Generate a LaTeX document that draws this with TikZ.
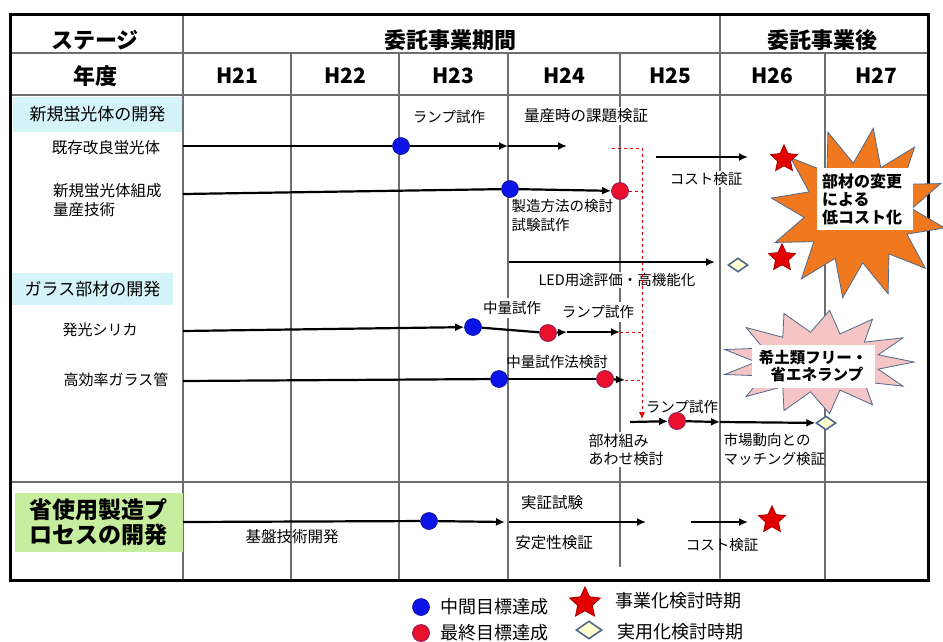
\documentclass[tikz,border=0pt]{standalone}
\usepackage{fontspec}
\setmainfont{Noto Sans CJK JP}
\usepackage{tikz}
\usetikzlibrary{shapes.geometric,arrows.meta,positioning,calc}
\definecolor{dotblue}{HTML}{0A14E6}
\definecolor{dotred}{HTML}{E8102A}
\definecolor{rimred}{HTML}{8A2060}
\definecolor{catcyan}{HTML}{D4F4FA}
\definecolor{catgreen}{HTML}{C6EE9E}
\definecolor{burstorange}{HTML}{F0781E}
\definecolor{burstpink}{HTML}{F5C4C4}
\definecolor{rimslate}{HTML}{4E6A8C}
\definecolor{chkfill}{HTML}{FFFFD0}
\definecolor{gridgray}{HTML}{6E6E6E}
\begin{document}
\begin{tikzpicture}[x=1pt, y=-1pt,
  gridline/.style={draw=gridgray, line width=1.2pt},
  hdr/.style={font=\bfseries\fontsize{22}{26}\selectfont},
  yr/.style={font=\bfseries\fontsize{21}{24}\selectfont},
  cat/.style={fill=#1, inner sep=0pt, font=\fontsize{17}{20}\selectfont},
  item/.style={font=\fontsize{15.5}{19}\selectfont, align=left, inner sep=1pt},
  note/.style={font=\fontsize{14.5}{19}\selectfont, align=left, inner sep=1.5pt},
  bar/.style={line width=2.2pt},
  arr/.style={bar, -{Latex[length=9pt,width=8pt]}},
  guide/.style={draw=red!85!black, dashed, line width=0.7pt},
  bdot/.style={circle, fill=dotblue, draw=dotblue!60!black, line width=0.6pt, minimum size=17pt, inner sep=0pt},
  rdot/.style={circle, fill=dotred, draw=rimred, line width=0.8pt, minimum size=17pt, inner sep=0pt},
  goal/.style={star, star points=5, star point ratio=2.1, fill=red!90!black, draw=red!70!black, line width=1pt, minimum size=#1, inner sep=0pt},
  goal/.default=28pt,
  chk/.style={diamond, fill=chkfill, draw=rimslate, line width=1.6pt, minimum width=20pt, minimum height=14pt, inner sep=0pt},
  burst/.style={fill=#1, draw=rimslate, line width=0.8pt, line join=miter},
  burstbox/.style={fill=white, inner sep=4pt, font=\bfseries\fontsize{16}{18}\selectfont},
  legend/.style={font=\fontsize{18}{20}\selectfont, anchor=west, inner sep=0pt},
]
  \useasboundingbox (0,0) rectangle (943,641);

  \draw[gridline] (10,53) -- (928,53);
  \draw[gridline] (10,95) -- (928,95);
  \draw[gridline, line width=2pt] (10,482) -- (928,482);
  \foreach \x in {183,720} \draw[gridline] (\x,14) -- (\x,580);
  \foreach \x in {291,399,508,825} \draw[gridline] (\x,53) -- (\x,580);
  \draw[gridline] (620,53) -- (620,567);
  \draw[line width=3pt] (10,14) rectangle (928,580);

  \node[hdr] (stage) at (95,40) {ステージ};
  \node[hdr] (term) at (450,40) {委託事業期間};
  \node[hdr] (after) at (822,40) {委託事業後};
  \node[hdr] (year) at (95,76) {年度};
  \foreach \n/\x in {21/237,22/345,23/453,24/564,25/670,26/772,27/876}
    \node[yr] (h\n) at (\x,76) {H\n};

  \node[cat=catcyan, minimum width=169pt, minimum height=35pt] (catA) at (97.5,114.5) {新規蛍光体の開発};
  \node[cat=catcyan, minimum width=161pt, minimum height=32pt] (catB) at (92.5,289) {ガラス部材の開発};
  \node[cat=catgreen, minimum width=168pt, minimum height=59pt, align=left,
        font=\bfseries\fontsize{23}{25}\selectfont] (catC) at (99,522.5) {省使用製造プ\\ロセスの開発};
  \node[item] (rowA1) at (106,148) {既存改良蛍光体};
  \node[item, anchor=west] (rowA2) at (52,200) {新規蛍光体組成\\量産技術};
  \node[item, font=\fontsize{15}{18}\selectfont] (rowB1) at (100,330) {発光シリカ};
  \node[item, font=\fontsize{15}{18}\selectfont] (rowB2) at (116,380) {高効率ガラス管};

  \node[note] (a1t) at (449,117) {ランプ試作};
  \node[note, fill=white, font=\fontsize{15.5}{19}\selectfont] (a1u) at (586,116) {量産時の課題検証};
  \node[note, fill=white] (a1v) at (706,179) {コスト検証};
  \node[note, anchor=north west] (a2t) at (510,198) {製造方法の検討\\試験試作};
  \node[note, fill=white] (a3t) at (617,280) {LED用途評価・高機能化};
  \node[note, fill=white, inner sep=3pt] (b1t) at (512,308) {中量試作};
  \node[note, fill=white, inner sep=3pt] (b1u) at (598,312) {ランプ試作};
  \node[note] (b2t) at (557,362) {中量試作法検討};
  \node[note] (c1t) at (682,407) {ランプ試作};
  \node[note, fill=white, anchor=north west, font=\fontsize{15}{18}\selectfont] (c1u) at (587,432) {部材組み\\あわせ検討};
  \node[note, anchor=north west, font=\fontsize{14.5}{19}\selectfont] (c1v) at (722,432) {市場動向との\\マッチング検証};
  \node[note, font=\fontsize{15.5}{19}\selectfont] (d1t) at (292,537) {基盤技術開発};
  \node[note, font=\fontsize{15.5}{19}\selectfont] (d1u) at (552,503) {実証試験};
  \node[note, font=\fontsize{15.5}{19}\selectfont] (d1v) at (554,543) {安定性検証};
  \node[note] (d1w) at (722,545) {コスト検証};

  \draw[burst=burstorange] ([shift={(858,213)}]10:88 and 86)
    \foreach \k in {1,...,12} {
      -- ([shift={(858,213)}]{\k*30-5}:54 and 50)
      -- ([shift={(858,213)}]{\k*30+10}:88 and 86)
    } -- cycle;
  \node[burstbox, minimum width=96pt, minimum height=62pt, text width=86pt, align=left] (burstA) at (865,199) {部材の変更\\による\\低コスト化};
  \draw[burst=burstpink] ([shift={(818,362)}]0:96 and 52)
    \foreach \k in {1,...,13} {
      -- ([shift={(818,362)}]{\k*360/13-180/13}:62 and 30)
      -- ([shift={(818,362)}]{\k*360/13}:96 and 52)
    } -- cycle;
  \node[burstbox, minimum width=123pt, minimum height=43pt, align=center, font=\bfseries\fontsize{15.5}{17}\selectfont] (burstB) at (813,366) {希土類フリー・\\\hspace*{8pt}省エネランプ};

  \coordinate (g0) at (612,148);
  \coordinate (g1) at (642,148);
  \coordinate (g2) at (642,419);
  \draw[guide] (g0) -- (g1);
  \draw[guide, -{Latex[length=7pt,width=6pt]}] (g1) -- (g2);

  \coordinate (a1s) at (183,146);
  \node[bdot] (a1m) at (401,146) {};
  \coordinate (a1e) at (508,146);
  \coordinate (a1f) at (567,146);
  \draw[bar] (a1s) -- (a1m);
  \draw[arr] (a1m) -- (a1e);
  \draw[arr] (a1e) -- (a1f);
  \coordinate (a1g) at (656,157);
  \coordinate (a1h) at (748,157);
  \draw[arr] (a1g) -- (a1h);
  \node[goal] (a1z) at (784,159) {};

  \coordinate (a2s) at (183,194);
  \node[bdot] (a2m) at (510,189) {};
  \node[rdot] (a2r) at (620,191) {};
  \draw[guide] (a2r) -- (a2r -| g1);
  \draw[bar] (a2s) -- (a2m);
  \draw[arr] (a2m) -- (a2r);

  \coordinate (a3s) at (509,262);
  \coordinate (a3e) at (715,262);
  \draw[arr] (a3s) -- (a3e);
  \node[chk] (a3d) at (738,265) {};
  \node[goal] (a3z) at (782,258) {};

  \coordinate (b1s) at (183,331);
  \node[bdot] (b1m) at (473,327) {};
  \node[rdot] (b1r) at (548,333) {};
  \coordinate (b1e) at (567,332);
  \coordinate (b1f) at (620,332);
  \draw[guide] (b1f) -- (b1f -| g1);
  \draw[arr] (b1s) -- (b1m);
  \draw[bar] (b1m) -- (b1r);
  \draw[arr] (b1r) -- (b1e);
  \draw[arr] (b1e) -- (b1f);

  \coordinate (b2s) at (183,381);
  \node[bdot] (b2m) at (499,379) {};
  \node[rdot] (b2r) at (605,379) {};
  \coordinate (b2e) at (625,380);
  \draw[guide] (b2e) -- (b2e -| g1);
  \draw[bar] (b2s) -- (b2m);
  \draw[bar] (b2m) -- (b2r);
  \draw[arr] (b2r) -- (b2e);

  \coordinate (c1s) at (630,422);
  \node[rdot] (c1r) at (677,421) {};
  \coordinate (c1e) at (720,422);
  \node[chk] (c1d) at (826,423) {};
  \draw[arr] (c1s) -- (c1r);
  \draw[arr] (c1r) -- (c1e);
  \draw[arr] (c1e) -- (c1d);

  \coordinate (d1s) at (183,522);
  \node[bdot] (d1m) at (429,521) {};
  \coordinate (d1e) at (505,522);
  \coordinate (d1f) at (509,522);
  \coordinate (d1g) at (646,522);
  \coordinate (d1h) at (691,522);
  \coordinate (d1i) at (748,522);
  \draw[bar] (d1s) -- (d1m);
  \draw[arr] (d1m) -- (d1e);
  \draw[arr] (d1f) -- (d1g);
  \draw[arr] (d1h) -- (d1i);
  \node[goal] (d1z) at (772,520) {};

  \node[bdot] (keyA) at (421,607) {};
  \node[legend] (keyAt) at (440,607) {中間目標達成};
  \node[rdot] (keyB) at (421,633) {};
  \node[legend] (keyBt) at (440,633) {最終目標達成};
  \node[goal=32pt] (keyC) at (585,603) {};
  \node[legend] (keyCt) at (615,601) {事業化検討時期};
  \node[chk, minimum width=26pt, minimum height=18pt] (keyD) at (589,630) {};
  \node[legend] (keyDt) at (617,632) {実用化検討時期};
\end{tikzpicture}
\end{document}
